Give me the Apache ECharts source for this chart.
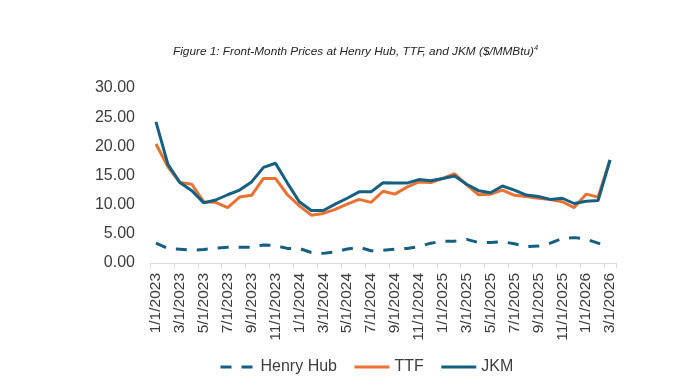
<!DOCTYPE html>
<html>
<head>
<meta charset="utf-8">
<script src="https://cdn.jsdelivr.net/npm/echarts@6/dist/echarts.min.js"></script>
<style>
html,body{margin:0;padding:0;background:#fff;}
#chart{width:690px;height:390px;}
</style>
</head>
<body>
<div id="chart"></div>
<script>
var categories = [
  '1/1/2023','2/1/2023','3/1/2023','4/1/2023','5/1/2023','6/1/2023','7/1/2023','8/1/2023','9/1/2023','10/1/2023','11/1/2023','12/1/2023',
  '1/1/2024','2/1/2024','3/1/2024','4/1/2024','5/1/2024','6/1/2024','7/1/2024','8/1/2024','9/1/2024','10/1/2024','11/1/2024','12/1/2024',
  '1/1/2025','2/1/2025','3/1/2025','4/1/2025','5/1/2025','6/1/2025','7/1/2025','8/1/2025','9/1/2025','10/1/2025','11/1/2025','12/1/2025',
  '1/1/2026','2/1/2026','3/1/2026'
];
var henryHub = [3.4,2.5,2.35,2.2,2.3,2.55,2.7,2.7,2.7,3.1,3.0,2.5,
                2.5,1.8,1.65,1.9,2.4,2.7,2.1,2.2,2.35,2.5,2.8,3.4,
                3.75,3.75,4.05,3.5,3.5,3.65,3.3,2.8,2.9,3.4,4.2,4.35,
                4.1,3.4,3.0];
var ttf = [20.4,16.5,13.8,13.5,10.5,10.4,9.5,11.3,11.6,14.5,14.5,11.7,
           9.8,8.2,8.5,9.2,10.1,10.9,10.4,12.3,11.8,13.0,13.9,13.8,
           14.5,15.3,13.4,11.7,11.8,12.5,11.6,11.4,11.1,10.9,10.5,9.5,
           11.8,11.3,17.65];
var jkm = [24.2,16.9,13.8,12.4,10.3,10.8,11.7,12.5,13.9,16.4,17.1,13.7,
           10.5,9.0,9.0,10.1,11.1,12.2,12.2,13.75,13.7,13.7,14.3,14.1,
           14.5,14.9,13.5,12.4,12.05,13.2,12.5,11.65,11.4,10.9,11.1,10.2,
           10.6,10.7,17.65];
var yTicks = {min: 0, max: 30, interval: 5};

var BLUE = '#156082', ORANGE = '#E97132', GREY = '#3d3d3d';
var FONT = 'Liberation Sans, Arial, sans-serif';
var chart = echarts.init(document.getElementById('chart'), null, {renderer: 'canvas'});
chart.setOption({
  animation: false,
  backgroundColor: '#ffffff',
  textStyle: {fontFamily: FONT},
  title: {
    text: '{t|Figure 1: Front-Month Prices at Henry Hub, TTF, and JKM ($/MMBtu)}{s|4}',
    left: 168, top: 39,
    textStyle: {
      fontWeight: 'normal',
      rich: {
        t: {fontSize: 11.8, fontStyle: 'italic', fontWeight: 'normal', color: '#262626', fontFamily: FONT},
        s: {fontSize: 7.5, fontStyle: 'italic', fontWeight: 'normal', color: '#262626', padding: [0,0,7,0], fontFamily: FONT}
      }
    }
  },
  grid: {left: 150, right: 74, top: 88, bottom: 127, containLabel: false},
  xAxis: {
    type: 'category',
    data: categories,
    boundaryGap: true,
    axisLine: {lineStyle: {color: '#D9D9D9', width: 1}},
    axisTick: {show: true, interval: 1, length: 5, lineStyle: {color: '#D9D9D9'}},
    axisLabel: {interval: 1, rotate: 90, fontSize: 15.5, color: GREY, margin: 10},
    splitLine: {show: false}
  },
  yAxis: {
    type: 'value',
    min: yTicks.min, max: yTicks.max, interval: yTicks.interval,
    axisLine: {show: false},
    axisTick: {show: false},
    splitLine: {show: false},
    axisLabel: {fontSize: 16, color: GREY, margin: 15, formatter: function (v) { return v.toFixed(2); }}
  },
  legend: {
    left: 214, top: 354,
    itemWidth: 35, itemHeight: 14, itemGap: 16,
    itemStyle: {opacity: 0},
    textStyle: {fontSize: 16, color: GREY},
    data: [
      {name: 'Henry Hub', lineStyle: {type: [11, 10], width: 3}},
      {name: 'TTF', lineStyle: {width: 3}},
      {name: 'JKM', lineStyle: {width: 3}}
    ]
  },
  series: [
    {name: 'Henry Hub', type: 'line', data: henryHub, symbol: 'none',
     lineStyle: {color: BLUE, width: 3, type: [11, 10], cap: 'butt'}, itemStyle: {color: BLUE}},
    {name: 'TTF', type: 'line', data: ttf, symbol: 'none',
     lineStyle: {color: ORANGE, width: 3}, itemStyle: {color: ORANGE}},
    {name: 'JKM', type: 'line', data: jkm, symbol: 'none',
     lineStyle: {color: BLUE, width: 3}, itemStyle: {color: BLUE}}
  ]
});
</script>
</body>
</html>
